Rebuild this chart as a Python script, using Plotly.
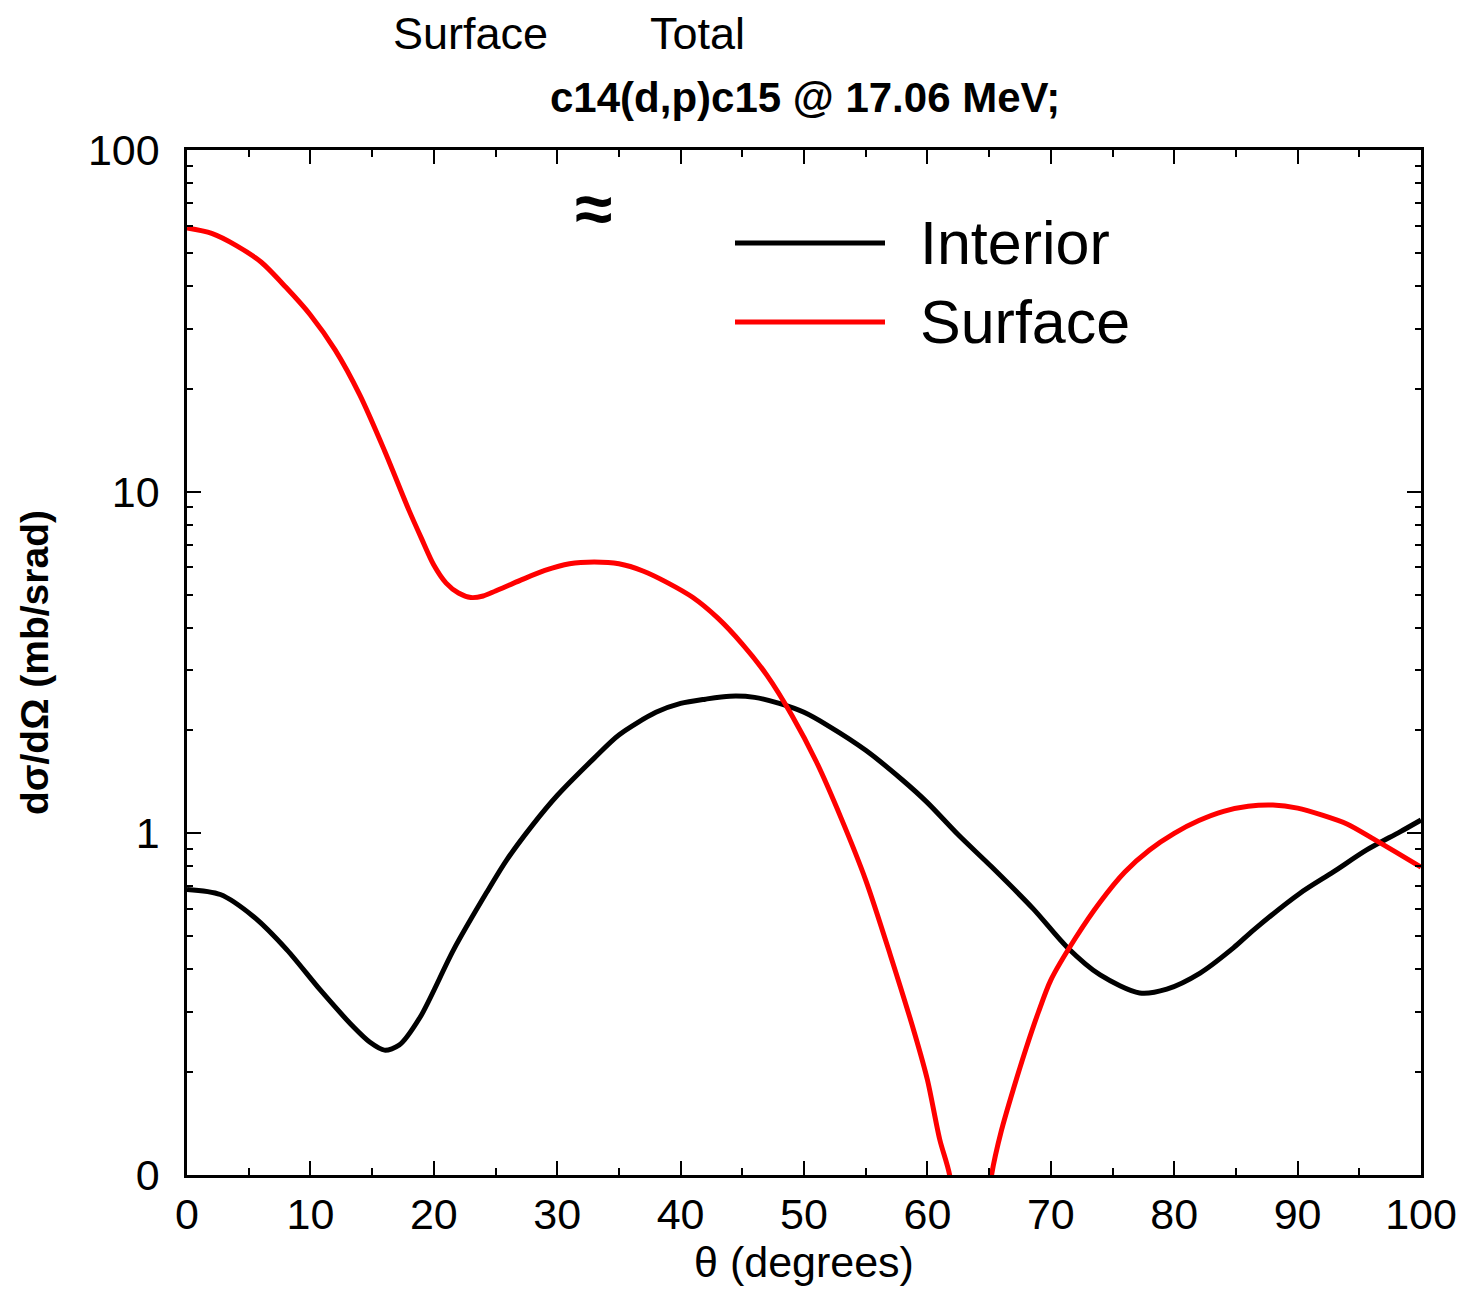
import plotly.graph_objects as go

# Interior (black)
theta_int = [0, 2.7, 5.4, 8.1, 10.8, 13.5, 14.8, 16, 17.2, 18.9, 21.6, 24.3, 25.9, 28, 30, 33, 35, 38, 40,
             42, 44, 46, 48, 50, 52, 55, 58, 60, 62.5, 65.2, 68.6, 71.3, 74, 77.2, 79.4, 82.1, 84.8, 86.4,
             90.2, 92.9, 95.6, 98.3, 100]
sig_int = [0.685, 0.662, 0.57, 0.456, 0.348, 0.271, 0.245, 0.232, 0.24, 0.29, 0.456, 0.673, 0.835, 1.057,
           1.29, 1.66, 1.94, 2.26, 2.40, 2.47, 2.52, 2.50, 2.40, 2.26, 2.06, 1.75, 1.43, 1.23, 0.99, 0.798,
           0.60, 0.465, 0.385, 0.341, 0.35, 0.39, 0.462, 0.52, 0.668, 0.771, 0.894, 1.01, 1.094]

# Surface (red)
theta_sur = [0, 2, 4, 6, 8, 10, 12, 14, 16, 18, 19, 20, 21, 22, 23, 24, 25, 27, 29, 31, 33, 35, 37, 39, 41,
             43, 45, 47, 49, 51, 53, 55, 57, 59, 60, 61, 61.8, 62.5, 63.5, 64.5, 65.2, 66, 67, 68, 69, 70,
             72, 74, 76, 78, 80, 82, 84, 86, 88, 90, 92, 94, 96, 98, 100]
sig_sur = [59.1, 57, 52.5, 47, 39.7, 32.9, 26, 19.2, 13.2, 8.8, 7.3, 6.1, 5.4, 5.05, 4.9, 4.95, 5.12, 5.5,
           5.88, 6.15, 6.22, 6.15, 5.85, 5.4, 4.9, 4.27, 3.58, 2.9, 2.22, 1.62, 1.11, 0.73, 0.44, 0.257, 0.19,
           0.127, 0.1, 0.06, 0.02, 0.06, 0.1, 0.135, 0.18, 0.235, 0.30, 0.372, 0.494, 0.63, 0.771, 0.894,
           1.00, 1.09, 1.16, 1.20, 1.21, 1.185, 1.13, 1.065, 0.97, 0.88, 0.796]

x_tickvals = [0, 10, 20, 30, 40, 50, 60, 70, 80, 90, 100]
x_minor = [5, 15, 25, 35, 45, 55, 65, 75, 85, 95]
y_tickvals = [0.1, 1, 10, 100]
y_ticktext = ["0", "1", "10", "100"]
y_minor = [m * 10 ** e for e in (-1, 0, 1) for m in range(2, 10)]

FONT = "Liberation Sans, Arial, sans-serif"

fig = go.Figure()
fig.add_trace(go.Scatter(x=theta_int, y=sig_int, mode="lines", name="Interior",
                         line=dict(color="black", width=5, shape="spline", smoothing=0.8)))
fig.add_trace(go.Scatter(x=theta_sur, y=sig_sur, mode="lines", name="Surface",
                         line=dict(color="#ff0000", width=5, shape="spline", smoothing=0.8)))

fig.update_layout(
    width=1464, height=1297,
    margin=dict(l=187, r=43, t=150, b=122),
    paper_bgcolor="white", plot_bgcolor="white",
    showlegend=False,
    font=dict(family=FONT, color="black"),
)
fig.update_xaxes(
    range=[0, 100], tickvals=x_tickvals, automargin=False,
    ticks="inside", ticklen=14, tickwidth=1.5, tickcolor="black",
    minor=dict(tickvals=x_minor, ticks="inside", ticklen=7, tickwidth=1.5, tickcolor="black"),
    showline=True, linecolor="black", linewidth=2.5, mirror="ticks",
    showgrid=False, zeroline=False,
    tickfont=dict(size=43, family=FONT),
    ticklabelstandoff=0,
    title=dict(text="θ (degrees)", font=dict(size=43, family=FONT), standoff=4),
)
fig.update_yaxes(
    type="log", range=[-1, 2], tickvals=y_tickvals, ticktext=y_ticktext, automargin=False,
    ticks="inside", ticklen=14, tickwidth=1.5, tickcolor="black",
    minor=dict(tickvals=y_minor, ticks="inside", ticklen=6, tickwidth=1.5, tickcolor="black"),
    showline=True, linecolor="black", linewidth=2.5, mirror="ticks",
    showgrid=False, zeroline=False,
    tickfont=dict(size=43, family=FONT),
    ticklabelstandoff=16,
    title=dict(text="<b>dσ/dΩ (mb/srad)</b>", font=dict(size=39, family=FONT), standoff=28),
)

for text, px in [("Surface", 470), ("Total", 697)]:
    fig.add_annotation(text=text, xref="paper", yref="paper",
                       x=(px - 187) / 1234, y=(1175 - 34) / 1025,
                       showarrow=False, font=dict(size=45, family=FONT), xanchor="center", yanchor="middle")
fig.add_annotation(text="<b>c14(d,p)c15 @ 17.06 MeV;</b>", xref="paper", yref="paper",
                   x=(805 - 187) / 1234, y=(1175 - 98) / 1025, showarrow=False,
                   font=dict(size=42, family=FONT), xanchor="center", yanchor="middle")
fig.add_annotation(text="<b>≈</b>", xref="paper", yref="paper",
                   x=(593 - 187) / 1234, y=(1175 - 208) / 1025, showarrow=False,
                   font=dict(size=68, family=FONT), xanchor="center", yanchor="middle")

# manual legend
for name, color, py in [("Interior", "black", 243), ("Surface", "#ff0000", 322)]:
    yp = (1175 - py) / 1025
    fig.add_shape(type="line", xref="paper", yref="paper",
                  x0=(735 - 187) / 1234, x1=(885 - 187) / 1234, y0=yp, y1=yp,
                  line=dict(color=color, width=5))
    fig.add_annotation(text=name, xref="paper", yref="paper",
                       x=(918 - 187) / 1234, y=yp, showarrow=False, xanchor="left", yanchor="middle",
                       font=dict(size=61, family=FONT))

fig.write_html("out.html")
